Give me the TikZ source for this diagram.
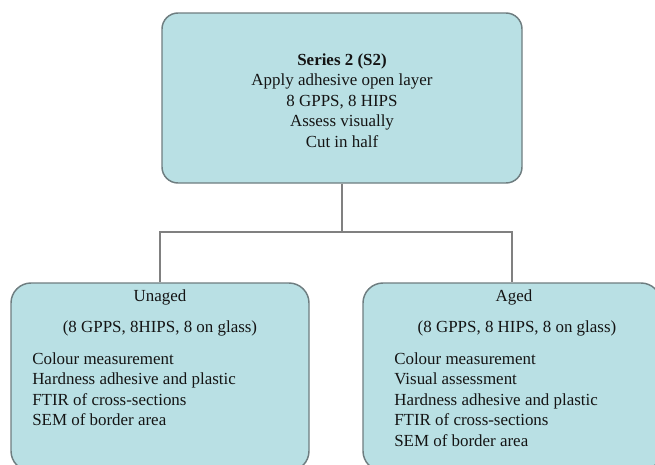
\documentclass[tikz,border=0pt]{standalone}
\usepackage{fontspec}
\setmainfont{Liberation Serif}
\definecolor{boxfill}{RGB}{185,224,228}
\definecolor{boxdraw}{RGB}{110,125,128}
\definecolor{linegray}{RGB}{128,128,128}
\begin{document}
\begin{tikzpicture}[x=0.75pt,y=-0.75pt,
  boxstyle/.style={draw=boxdraw,line width=1.1pt,fill=boxfill,rounded corners=12pt,inner sep=0pt},
  txt/.style={font=\fontsize{12.7}{15.3}\selectfont,inner sep=0pt,text=black!92},
  conn/.style={draw=linegray,line width=1.1pt}]
\useasboundingbox (0,0) rectangle (655,464);
\node[boxstyle,minimum width=270pt,minimum height=127.5pt] (top) at (342,98) {};
\node[boxstyle,minimum width=223.5pt,minimum height=141pt,rounded corners=15pt] (unaged) at (160,377) {};
\node[boxstyle,minimum width=223.5pt,minimum height=141pt,rounded corners=15pt] (aged) at (512,377) {};
\node[txt,align=center] (toptext) at (342,100.5) {\textbf{Series 2 (S2)}\\Apply adhesive open layer\\8 GPPS, 8 HIPS\\Assess visually\\Cut in half};
\node[txt] (ut) at (160,297) {Unaged};
\node[txt] (us) at (160,328) {(8 GPPS, 8HIPS, 8 on glass)};
\node[txt,align=left,anchor=west] (ul) at (32,389) {Colour measurement\\Hardness adhesive and plastic\\FTIR of cross-sections\\SEM of border area};
\node[txt] (at) at (514,297) {Aged};
\node[txt] (as) at (517,328) {(8 GPPS, 8 HIPS, 8 on glass)};
\node[txt,align=left,anchor=west] (al) at (394,399.5) {Colour measurement\\Visual assessment\\Hardness adhesive and plastic\\FTIR of cross-sections\\SEM of border area};
\coordinate (j) at (342,232);
\draw[conn] (top.south) -- (j);
\draw[conn] (unaged.north) |- (j) -| (aged.north);
\end{tikzpicture}
\end{document}
